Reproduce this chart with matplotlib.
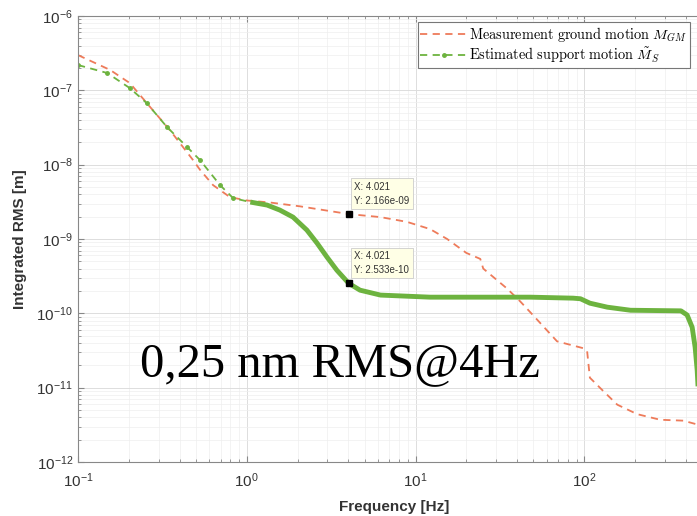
import numpy as np
import matplotlib
matplotlib.use("Agg")
import matplotlib.pyplot as plt
from matplotlib.ticker import LogLocator, NullFormatter

plt.rcParams["font.family"] = ["Liberation Sans", "DejaVu Sans"]

# measured ground motion (integrated RMS, m)
freq_meas = [0.1, 0.155, 0.203, 0.267, 0.351, 0.481, 0.529, 0.632, 0.795, 1.0, 1.37,
             2.07, 4.021, 6.2, 8.9, 12.2, 15.4, 20.0, 24.2, 25.2, 34.9, 41.7, 49.8,
             69.0, 98.4, 104.0, 108.0, 129.0, 157.0, 206.0, 282.0, 386.0, 467.0, 600.0]
rms_meas = [2.98e-7, 1.88e-7, 1.25e-7, 6.0e-8, 2.9e-8, 1.15e-8, 8.5e-9, 5.3e-9,
            3.66e-9, 3.3e-9, 3.1e-9, 2.75e-9, 2.166e-9, 1.97e-9, 1.7e-9, 1.36e-9,
            1.0e-9, 6.5e-10, 5.4e-10, 4.0e-10, 2.15e-10, 1.45e-10, 9.4e-11, 4.2e-11,
            3.4e-11, 3.1e-11, 1.36e-11, 9.1e-12, 5.9e-12, 4.4e-12, 3.7e-12, 3.6e-12,
            3.2e-12, 2.6e-12]

# estimated support motion
freq_est = [0.1, 0.149, 0.203, 0.256, 0.337, 0.443, 0.529, 0.695, 0.83, 1.05, 1.32,
            1.57, 1.88, 2.27, 2.61, 2.99, 3.42, 4.021, 4.69, 6.2, 12.2, 47.8, 85.9,
            95.0, 108.0, 137.0, 188.0, 374.0, 407.0, 436.0, 454.0, 467.0, 480.0, 500.0]
rms_est = [2.19e-7, 1.71e-7, 1.07e-7, 6.7e-8, 3.2e-8, 1.73e-8, 1.15e-8, 5.3e-9,
           3.55e-9, 3.14e-9, 2.86e-9, 2.45e-9, 1.97e-9, 1.32e-9, 8.8e-10, 5.7e-10,
           3.8e-10, 2.533e-10, 2.05e-10, 1.76e-10, 1.65e-10, 1.65e-10, 1.6e-10,
           1.57e-10, 1.37e-10, 1.21e-10, 1.1e-10, 1.08e-10, 9.5e-11, 6.5e-11, 3.5e-11,
           1.7e-11, 5e-12, 1e-12]

tip_x = [4.021, 4.021]
tip_y = [2.166e-9, 2.533e-10]

red = "#EE7B5A"
green = "#6DB33F"

fig = plt.figure(figsize=(6.97, 5.16), dpi=100)
# axis runs to 1e3, cropped by the figure's right edge
ax = fig.add_axes([78 / 697, 1 - 462 / 516, (753 - 78) / 697, 446 / 516])

ax.plot(freq_meas, rms_meas, "--", color=red, lw=1.3, dashes=(4, 3),
        label=r"$\mathrm{Measurement\ ground\ motion}\ M_{GM}$")

fe = np.array(freq_est)
re = np.array(rms_est)
low = list(np.where(fe < 1.0)[0])
ax.plot(fe, re, "--", color=green, lw=1.3, dashes=(4, 3), marker=".", ms=5,
        markevery=low, label=r"$\mathrm{Estimated\ support\ motion}\ \tilde{M}_S$")
hi = fe >= 0.95
ax.plot(fe[hi], re[hi], "-", color=green, lw=3.5, solid_capstyle="butt")

ax.plot(tip_x, tip_y, "s", color="black", ms=4.5, zorder=5)
for xv, yv in zip(tip_x, tip_y):
    ax.annotate(f"X: {xv:.3f}\nY: {yv:.3e}", (xv, yv), xytext=(4, 6),
                textcoords="offset points", fontsize=7, color="#333333",
                va="bottom", ha="left", linespacing=1.5,
                bbox=dict(boxstyle="square,pad=0.35", fc="#FFFFE6", ec="#CCCCCC", lw=0.6))

ax.set_xscale("log")
ax.set_yscale("log")
ax.set_xlim(0.1, 1000)
ax.set_ylim(1e-12, 1e-6)
ax.set_xticks([0.1, 1, 10, 100])
ax.xaxis.set_minor_locator(LogLocator(base=10, subs=np.arange(2, 10), numticks=20))
ax.yaxis.set_major_locator(LogLocator(base=10, numticks=10))
ax.yaxis.set_minor_locator(LogLocator(base=10, subs=np.arange(2, 10), numticks=20))
ax.yaxis.set_minor_formatter(NullFormatter())
ax.xaxis.set_minor_formatter(NullFormatter())

ax.grid(True, which="major", color="#DDDDDD", lw=0.7)
ax.grid(True, which="minor", color="#EEEEEE", lw=0.5)
ax.set_axisbelow(True)
for s in ax.spines.values():
    s.set_color("#888888")
ax.tick_params(which="both", direction="in", colors="#888888", labelcolor="#333333",
               top=True, right=True, labelsize=11)
ax.tick_params(which="major", length=4)
ax.tick_params(which="minor", length=2)
ax.tick_params(axis="x", pad=7)

ax.set_xlabel("Frequency [Hz]", fontsize=11, fontweight="bold", color="#333333")
ax.set_ylabel("Integrated RMS [m]", fontsize=11, fontweight="bold", color="#333333")
ax.xaxis.set_label_coords((394 - 78) / 675, -0.085)
ax.yaxis.set_label_coords(-0.075, 0.5)

leg = ax.legend(loc="upper right", bbox_to_anchor=((690 - 78) / 675, 1 - 6 / 446),
                prop={"size": 10.3, "math_fontfamily": "cm"}, handlelength=3.3,
                handletextpad=0.1, borderpad=0.2, labelspacing=0.1, fancybox=False,
                framealpha=1, edgecolor="#777777", borderaxespad=0)
leg.get_frame().set_linewidth(0.8)

ax.text(0.233, 1.43e-11, "0,25 nm RMS@4Hz", fontsize=35, family="Liberation Serif",
        color="black", ha="left", va="baseline")

fig.savefig("out.png", dpi=100)
